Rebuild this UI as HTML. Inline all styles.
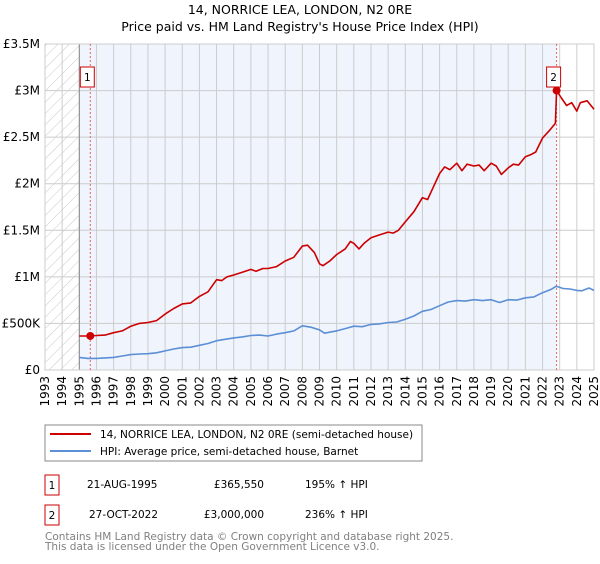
<!DOCTYPE html>
<html><head><meta charset="utf-8"><style>
body{margin:0;background:#fff;width:600px;height:560px;overflow:hidden;font-family:"DejaVu Sans","Liberation Sans",sans-serif}
</style></head><body>
<svg id="chart" width="600" height="560" xmlns="http://www.w3.org/2000/svg" font-family="DejaVu Sans, Liberation Sans, sans-serif">
<defs><pattern id="hatch" width="8" height="8" patternUnits="userSpaceOnUse" patternTransform="rotate(45)"><line x1="0" y1="0" x2="0" y2="8" stroke="#c8c8c8" stroke-width="1"/></pattern></defs>
<text x="300" y="14" text-anchor="middle" font-size="12.5">14, NORRICE LEA, LONDON, N2 0RE</text>
<text x="300" y="31" text-anchor="middle" font-size="12.5">Price paid vs. HM Land Registry's House Price Index (HPI)</text>
<g id="plot"></g>
<g>
<rect x="45" y="425" width="377" height="36" fill="#fff" stroke="#888"/>
<line x1="50" y1="434" x2="91" y2="434" stroke="#cc0000" stroke-width="2"/>
<text x="100" y="438" font-size="10.5">14, NORRICE LEA, LONDON, N2 0RE (semi-detached house)</text>
<line x1="50" y1="451" x2="91" y2="451" stroke="#5b8fd6" stroke-width="2"/>
<text x="100" y="455" font-size="10.5">HPI: Average price, semi-detached house, Barnet</text>
</g>
<g font-size="10.5">
<rect x="45" y="475" width="14" height="20" fill="#fff" stroke="#cc0000"/><text x="52" y="489" text-anchor="middle">1</text>
<text x="87" y="488">21-AUG-1995</text><text x="264" y="488" text-anchor="end">£365,550</text><text x="305" y="488">195% ↑ HPI</text>
<rect x="45" y="505" width="14" height="20" fill="#fff" stroke="#cc0000"/><text x="52" y="519" text-anchor="middle">2</text>
<text x="89" y="518">27-OCT-2022</text><text x="264" y="518" text-anchor="end">£3,000,000</text><text x="305" y="518">236% ↑ HPI</text>
</g>
<text x="45" y="540" font-size="10.5" fill="#808080">Contains HM Land Registry data © Crown copyright and database right 2025.</text>
<text x="45" y="550" font-size="10.5" fill="#808080">This data is licensed under the Open Government Licence v3.0.</text>
</svg>
<script>
const yTicks=[0,500000,1000000,1500000,2000000,2500000,3000000,3500000];
const yTickLabels=["£0","£500K","£1M","£1.5M","£2M","£2.5M","£3M","£3.5M"];
const years=[1993,1994,1995,1996,1997,1998,1999,2000,2001,2002,2003,2004,2005,2006,2007,2008,2009,2010,2011,2012,2013,2014,2015,2016,2017,2018,2019,2020,2021,2022,2023,2024,2025];
const hpiDates=[1995.0,1995.5,1996,1996.5,1997,1997.5,1998,1998.5,1999,1999.5,2000,2000.5,2001,2001.5,2002,2002.5,2003,2003.5,2004,2004.5,2005,2005.5,2006,2006.5,2007,2007.5,2008,2008.5,2009,2009.3,2009.7,2010,2010.5,2011,2011.5,2012,2012.5,2013,2013.5,2014,2014.5,2015,2015.5,2016,2016.5,2017,2017.5,2018,2018.5,2019,2019.5,2020,2020.5,2021,2021.5,2022,2022.5,2022.8,2023.2,2023.6,2024,2024.3,2024.7,2025];
const hpiValues=[135000,125000,125000,130000,135000,150000,165000,172000,175000,185000,205000,225000,240000,245000,265000,285000,315000,330000,345000,355000,370000,375000,365000,385000,400000,420000,475000,460000,430000,395000,410000,420000,445000,470000,465000,490000,495000,510000,515000,545000,580000,630000,650000,690000,730000,745000,740000,755000,745000,755000,725000,755000,750000,775000,785000,830000,865000,900000,875000,870000,855000,850000,880000,855000];
const priceDates=[1995.0,1995.64,1996,1996.5,1997,1997.5,1998,1998.5,1999,1999.5,2000,2000.5,2001,2001.5,2002,2002.5,2003,2003.3,2003.6,2004,2004.5,2005,2005.3,2005.7,2006,2006.5,2007,2007.5,2008,2008.3,2008.7,2009,2009.2,2009.6,2010,2010.5,2010.8,2011,2011.3,2011.6,2012,2012.5,2013,2013.3,2013.6,2014,2014.5,2015,2015.3,2015.6,2016,2016.3,2016.6,2017,2017.3,2017.6,2018,2018.3,2018.6,2019,2019.3,2019.6,2020,2020.3,2020.6,2021,2021.3,2021.6,2022,2022.4,2022.75,2022.82,2023.1,2023.4,2023.7,2024,2024.2,2024.6,2025];
const priceValues=[365550,365550,370000,375000,400000,420000,470000,500000,510000,530000,600000,660000,710000,720000,790000,840000,970000,960000,1000000,1020000,1050000,1080000,1060000,1090000,1090000,1110000,1170000,1210000,1330000,1340000,1260000,1140000,1120000,1170000,1240000,1300000,1380000,1360000,1300000,1360000,1420000,1450000,1480000,1470000,1500000,1590000,1700000,1850000,1830000,1950000,2110000,2180000,2150000,2220000,2140000,2210000,2190000,2200000,2140000,2220000,2190000,2100000,2170000,2210000,2200000,2290000,2310000,2340000,2490000,2570000,2650000,3000000,2920000,2840000,2870000,2780000,2870000,2890000,2800000];
const sales=[{d:1995.64,v:365550,n:"1"},{d:2022.82,v:3000000,n:"2"}];
const X0=45,X1=594,Y0=370,Y1=44,NS="http://www.w3.org/2000/svg";
function xS(t){return X0+(t-1993)/(2025-1993)*(X1-X0);}
function yS(v){return Y0-v/3500000*(Y0-Y1);}
const g=document.getElementById('plot');
function el(tag,attrs,parent){const e=document.createElementNS(NS,tag);for(const k in attrs)e.setAttribute(k,attrs[k]);(parent||g).appendChild(e);return e;}
const bg=el('rect',{x:X0,y:Y1,width:X1-X0,height:Y0-Y1,fill:'#fff'});


const hatch=el('rect',{x:X0,y:Y1,width:xS(1995)-X0,height:Y0-Y1,fill:'url(#hatch)'});


const shade=el('rect',{x:xS(1995),y:Y1,width:xS(sales[1].d)-xS(1995),height:Y0-Y1,fill:'#f0f4fd'});


years.forEach(yr=>{
  const l=el('line',{x1:xS(yr),x2:xS(yr),y1:Y1,y2:Y0,stroke:'#cccccc','stroke-width':1});
  
  
  const t=el('text',{x:0,y:0,'font-size':12,'text-anchor':'end',transform:`translate(${xS(yr)+4},${Y0+6}) rotate(-90)`});
  t.textContent=yr;
  
  
});
yTicks.forEach((v,i)=>{
  const l=el('line',{x1:X0,x2:X1,y1:yS(v),y2:yS(v),stroke:'#cccccc','stroke-width':1});
  
  
  const t=el('text',{x:X0-5,y:yS(v)+4,'font-size':12,'text-anchor':'end'});
  t.textContent=yTickLabels[i];
  
  
});
const ax=el('line',{x1:xS(1995),x2:xS(1995),y1:Y1,y2:Y0,stroke:'#888','stroke-width':1});


const border=el('rect',{x:X0,y:Y1,width:X1-X0,height:Y0-Y1,fill:'none',stroke:'#cccccc'});


sales.forEach(s=>{
  const l=el('line',{x1:xS(s.d),x2:xS(s.d),y1:Y1,y2:Y0,stroke:'#e06666','stroke-width':1,'stroke-dasharray':'2,2'});
  
  
});
function path(ds,vs,color,name){
  const d=ds.map((t,i)=>(i?'L':'M')+xS(t).toFixed(1)+','+yS(vs[i]).toFixed(1)).join('');
  const p=el('path',{d:d,fill:'none',stroke:color,'stroke-width':1.6,'stroke-linejoin':'round'});
  
  
}
path(hpiDates,hpiValues,'#5b8fd6','hpi-line');
path(priceDates,priceValues,'#cc0000','price-paid-line');
sales.forEach(s=>{
  const c=el('circle',{cx:xS(s.d),cy:yS(s.v),r:4,fill:'#cc0000'});
  
  
  const r=el('rect',{x:xS(s.d)-10,y:67,width:14,height:20,fill:'#fff',stroke:'#cc0000'});
  
  
  const t=el('text',{x:xS(s.d)-3,y:81,'font-size':10.5,'text-anchor':'middle'});
  t.textContent=s.n;
  
  
});
</script>
</body></html>
